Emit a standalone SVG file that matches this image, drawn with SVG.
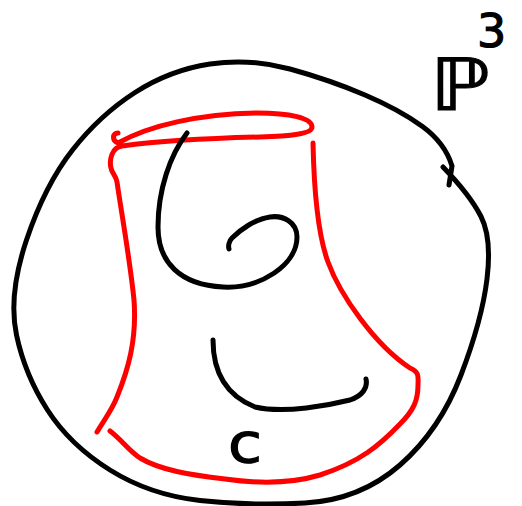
<svg xmlns="http://www.w3.org/2000/svg" width="522" height="506" viewBox="0 0 522 506">
<style>
.k{fill:none;stroke:#000;stroke-width:5;stroke-linecap:round;stroke-linejoin:round}
.r{fill:none;stroke:#ff0000;stroke-width:5;stroke-linecap:round;stroke-linejoin:round}
.t{fill:#000;stroke:#000;stroke-width:1.2;font-family:"DejaVu Sans","Liberation Sans",sans-serif}
</style>
<rect width="522" height="506" fill="#fff"/>
<g id="sphere">
<path class="k" d="M 449,185 L 452,166 Q 445,143 422.5,126.5 Q 400,110 365,95 Q 330,80 290,69 Q 250,58 210,64 Q 170,70 135,92.5 Q 100,115 72.5,150 Q 45,185 26.5,240 Q 8,295 16.5,335 Q 25,375 47.5,410 Q 70,445 110,470 Q 150,495 200,500.5 Q 250,506 305,503 Q 360,500 400,465 Q 440,430 461,375 Q 482,320 487,279 Q 492,238 481,216.5 Q 470,195 443,167"/>
</g>
<g id="surface">
<path class="r" d="M 118,133 C 112,133 112,141 118,143 C 150,125 200,114 257,113 C 290,113 312,118 312,127 C 312,134 290,136 260,137 C 220,138 160,141 122,146 C 112,147 109,160 111,168 C 112,174 116,175 117,182 C 121,210 130,260 134,300 C 137,340 128,370 117,397 C 112,410 104,420 97,432"/>
<path class="r" d="M 313,143 C 314,190 318,235 328,262 C 340,295 375,345 410,368 C 420,372 418,378 418,385 C 418,400 414,410 400,424 C 380,445 360,462 320,475 C 290,484 260,484 225,479 C 190,475 160,470 140,458 C 128,450 122,440 110,431"/>
</g>
<g id="curve-c">
<path class="k" d="M 187,133 C 170,155 158,190 158,227 C 158,262 180,285 223,287 C 260,289 297,265 297,237 C 297,222 283,215 270,217 C 255,219 240,230 232,238 C 229,241 228,246 229,249"/>
<path class="k" d="M 213,340 C 213,370 225,395 255,407 C 285,414 330,405 350,400 C 362,396 368,388 366,379"/>
</g>
<g id="label-c"><text class="t" x="228" y="462" font-size="56" textLength="34" lengthAdjust="spacingAndGlyphs">c</text></g>
<g id="label-p3">
<text class="t" x="430" y="110" font-size="72" textLength="60" lengthAdjust="spacingAndGlyphs">ℙ</text>
<text class="t" x="477" y="47" font-size="46">3</text>
</g>
</svg>
